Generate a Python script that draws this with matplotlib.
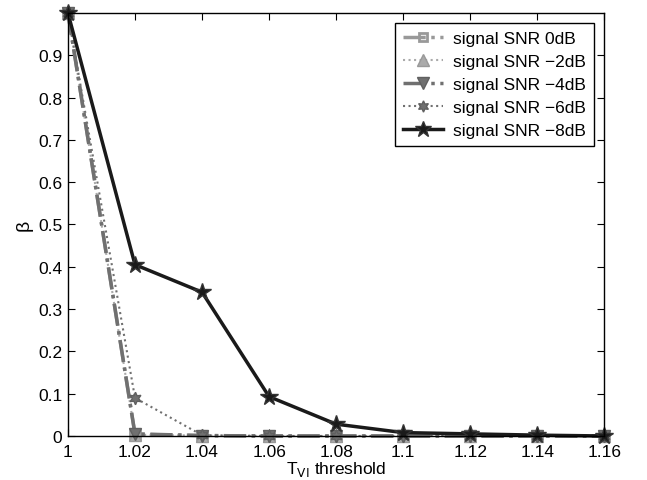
import matplotlib
matplotlib.use("Agg")
import matplotlib.pyplot as plt

thresholds = [1.00, 1.02, 1.04, 1.06, 1.08, 1.10, 1.12, 1.14, 1.16]
snr_0db = [1.0, 0.004, 0.001, 0.0, 0.0, 0.0, 0.0, 0.0, 0.0]
snr_m2db = [1.0, 0.003, 0.001, 0.0, 0.0, 0.0, 0.0, 0.0, 0.0]
snr_m4db = [1.0, 0.005, 0.001, 0.0, 0.0, 0.0, 0.0, 0.0, 0.0]
snr_m6db = [1.0, 0.09, 0.002, 0.0, 0.0, 0.0, 0.0, 0.0, 0.0]
snr_m8db = [1.0, 0.405, 0.34, 0.093, 0.028, 0.008, 0.005, 0.002, 0.0]
labels = ["signal SNR 0dB", "signal SNR \u22122dB", "signal SNR \u22124dB",
          "signal SNR \u22126dB", "signal SNR \u22128dB"]

plt.rcParams['font.family'] = ['Liberation Sans', 'DejaVu Sans']
fig = plt.figure(figsize=(6.47, 4.81), dpi=100)
ax = fig.add_axes([0.105, 0.0915, 0.829, 0.8795])

ax.plot(thresholds, snr_0db, linestyle='-.', color='#999999', lw=2.5,
        marker='s', ms=7, mfc='none', mec='#999999', mew=2, label=labels[0], clip_on=False)
ax.plot(thresholds, snr_m2db, linestyle=':', color='#aaaaaa', lw=1.5,
        marker='^', ms=9, mfc='#aaaaaa', mec='#999999', label=labels[1], clip_on=False)
ax.plot(thresholds, snr_m4db, linestyle='-.', color='#707070', lw=2.5,
        marker='v', ms=9, mfc='#707070', mec='#606060', label=labels[2], clip_on=False)
ax.plot(thresholds, snr_m6db, linestyle=':', color='#707070', lw=1.5,
        marker=(6, 1, 0), ms=9, mfc='#707070', mec='#606060', label=labels[3], clip_on=False)
ax.plot(thresholds, snr_m8db, linestyle='-', color='#1a1a1a', lw=2.5,
        marker='*', ms=13, mfc='#1a1a1a', mec='#333333', label=labels[4], clip_on=False)

ax.set_xlim(1.0, 1.16)
ax.set_ylim(0, 1.0)
ax.set_xticks(thresholds)
ax.set_xticklabels(['1', '1.02', '1.04', '1.06', '1.08', '1.1', '1.12', '1.14', '1.16'])
ax.set_yticks([0, 0.1, 0.2, 0.3, 0.4, 0.5, 0.6, 0.7, 0.8, 0.9])
ax.set_yticklabels(['0', '0.1', '0.2', '0.3', '0.4', '0.5', '0.6', '0.7', '0.8', '0.9'])
ax.tick_params(direction='in', top=True, right=True, labelsize=12.5, length=5)
ax.tick_params(axis='x', pad=6)
ax.tick_params(axis='y', pad=4)
for s in ax.spines.values():
    s.set_linewidth(1.0)

ax.set_xlabel('T$_{\\mathrm{VI}}$ threshold', fontsize=12.5, labelpad=0)
ax.set_ylabel('\u03b2', fontsize=14)

leg = ax.legend(loc='upper right', fontsize=12.5, frameon=True, fancybox=False,
                edgecolor='black', framealpha=1, borderaxespad=0.6,
                handlelength=2.3, labelspacing=0.45, markerscale=0.9,
                borderpad=0.45, handletextpad=0.6)
leg.get_frame().set_linewidth(1.0)

fig.savefig('out.png', dpi=100)
